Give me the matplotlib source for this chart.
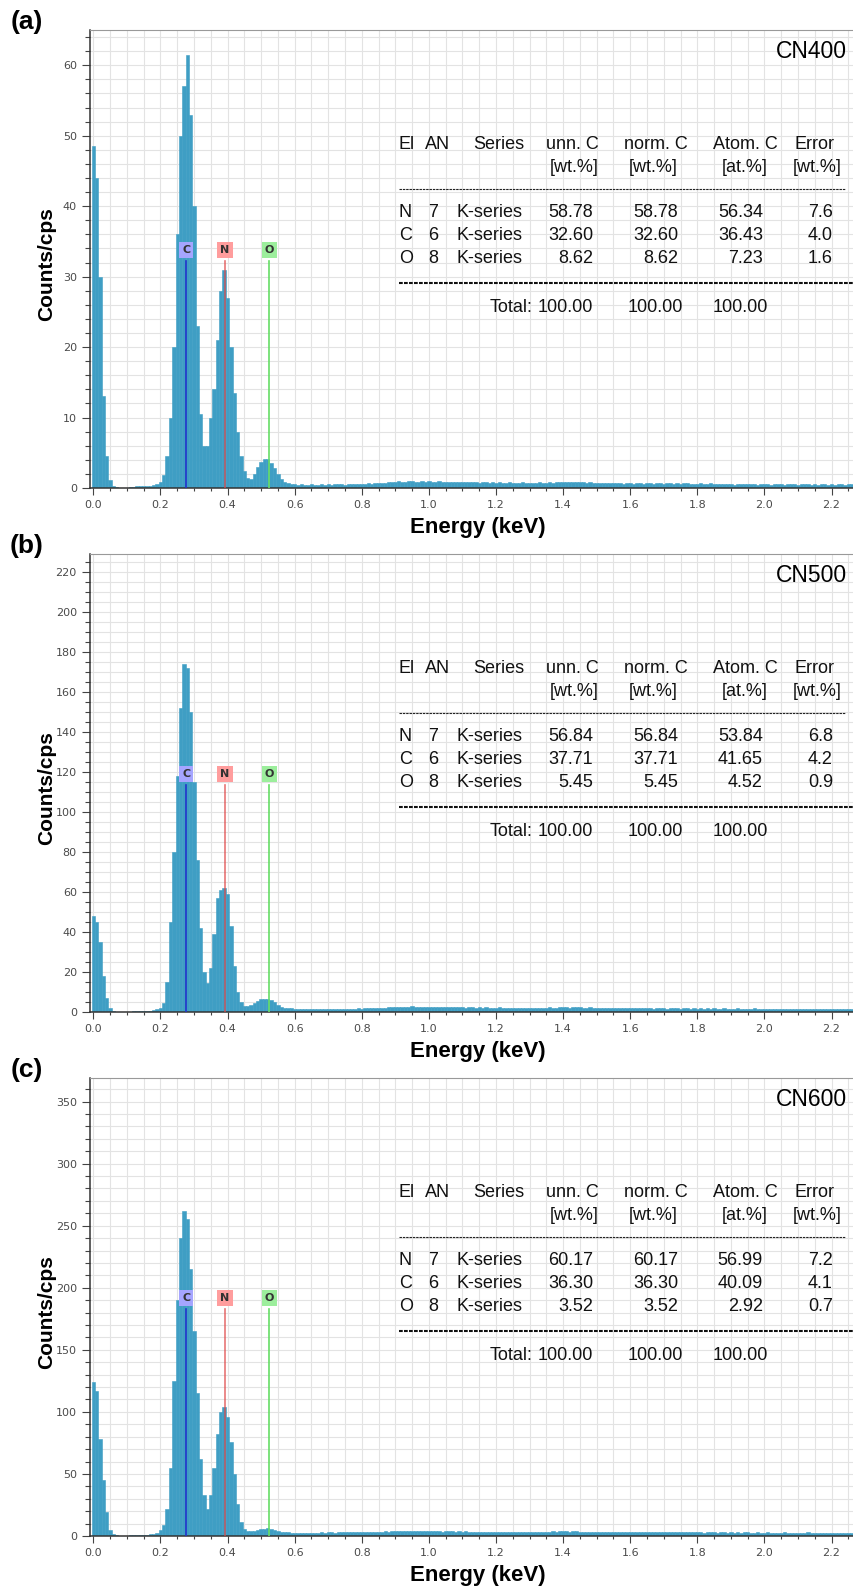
import numpy as np
import matplotlib.pyplot as plt
from matplotlib.ticker import MultipleLocator

plt.rcParams['font.family'] = ['Liberation Sans', 'DejaVu Sans']

# EDS spectra, one value per 10 eV channel starting at 0.00 keV (counts/cps)
cn400 = [
    48.5, 44, 30, 13, 4.5, 1.2, 0.3, 0.1, 0.05, 0.05,
    0.05, 0.1, 0.2, 0.25, 0.25, 0.3, 0.3, 0.35, 0.45, 0.6,
    0.9, 1.8, 4.5, 10, 20, 36, 50, 57, 61.5, 53,
    40, 23, 10.5, 6, 6, 10, 14, 21, 28, 31,
    27, 20, 13.5, 8, 4.5, 2.4, 1.4, 1.3, 2.0, 3.0,
    3.7, 4.1, 4.1, 3.5, 2.8, 2.0, 1.3, 0.9, 0.7, 0.6,
    0.5, 0.45, 0.5, 0.4, 0.45, 0.5, 0.4, 0.45, 0.5, 0.45,
    0.5, 0.45, 0.5, 0.55, 0.5, 0.45, 0.5, 0.55, 0.5, 0.6,
    0.55, 0.6, 0.65, 0.6, 0.7, 0.65, 0.7, 0.75, 0.8, 0.85,
    0.9, 0.95, 0.85, 0.9, 1.0, 0.95, 0.9, 0.85, 0.95, 0.9,
    0.95, 0.85, 0.9, 0.95, 0.85, 0.9, 0.8, 0.85, 0.9, 0.8,
    0.85, 0.8, 0.85, 0.9, 0.8, 0.75, 0.85, 0.8, 0.75, 0.8,
    0.75, 0.8, 0.7, 0.75, 0.8, 0.7, 0.75, 0.7, 0.8, 0.75,
    0.7, 0.75, 0.7, 0.8, 0.75, 0.7, 0.8, 0.75, 0.8, 0.85,
    0.8, 0.85, 0.8, 0.9, 0.85, 0.9, 0.8, 0.75, 0.8, 0.7,
    0.75, 0.7, 0.65, 0.7, 0.75, 0.7, 0.65, 0.7, 0.6, 0.65,
    0.7, 0.6, 0.65, 0.7, 0.6, 0.75, 0.65, 0.6, 0.7, 0.65,
    0.6, 0.65, 0.7, 0.6, 0.65, 0.6, 0.7, 0.65, 0.6, 0.55,
    0.6, 0.65, 0.55, 0.6, 0.65, 0.6, 0.55, 0.6, 0.5, 0.55,
    0.5, 0.45, 0.5, 0.55, 0.5, 0.6, 0.55, 0.5, 0.45, 0.5,
    0.55, 0.5, 0.45, 0.5, 0.55, 0.5, 0.45, 0.5, 0.55, 0.5,
    0.45, 0.5, 0.55, 0.5, 0.45, 0.5, 0.45, 0.5, 0.55, 0.45,
    0.5, 0.45, 0.55, 0.5, 0.45, 0.5, 0.55,
]

cn500 = [
    48, 45, 35, 18, 7, 2, 0.6, 0.2, 0.1, 0.1,
    0.15, 0.2, 0.3, 0.4, 0.5, 0.5, 0.6, 0.7, 0.9, 1.3,
    2.0, 4.5, 15, 45, 80, 118, 152, 174, 172, 150,
    115, 76, 42, 20, 14.5, 22, 39, 57, 61, 62,
    59, 43, 23, 10, 5, 3, 2.8, 3.5, 4.5, 5.5,
    6.3, 6.7, 6.6, 5.8, 4.8, 3.6, 2.7, 2.2, 2.0, 1.8,
    1.6, 1.5, 1.4, 1.5, 1.3, 1.4, 1.5, 1.3, 1.4, 1.5,
    1.4, 1.5, 1.6, 1.5, 1.4, 1.6, 1.5, 1.7, 1.6, 1.8,
    1.7, 1.8, 1.9, 1.8, 2.0, 2.1, 2.0, 2.2, 2.3, 2.4,
    2.5, 2.6, 2.4, 2.7, 2.5, 2.8, 2.6, 2.5, 2.7, 2.6,
    2.5, 2.7, 2.4, 2.6, 2.5, 2.3, 2.6, 2.4, 2.5, 2.3,
    2.4, 2.2, 2.5, 2.3, 2.1, 2.4, 2.2, 2.3, 2.1, 2.2,
    2.1, 2.3, 2.0, 2.2, 2.1, 1.9, 2.2, 2.0, 2.1, 1.9,
    2.0, 2.1, 1.9, 2.2, 2.0, 2.1, 2.3, 2.1, 2.2, 2.4,
    2.3, 2.5, 2.2, 2.4, 2.6, 2.3, 2.2, 2.1, 2.3, 2.0,
    2.1, 1.9, 2.0, 2.2, 1.9, 2.0, 1.8, 2.1, 1.9, 2.0,
    1.8, 2.0, 1.9, 2.1, 1.8, 1.9, 2.0, 1.7, 1.9, 1.8,
    1.9, 1.7, 1.8, 2.0, 1.8, 1.7, 1.9, 1.8, 1.6, 1.8,
    1.7, 1.9, 1.6, 1.8, 1.7, 1.9, 1.6, 1.7, 1.8, 1.6,
    1.7, 1.5, 1.8, 1.6, 1.7, 1.5, 1.6, 1.8, 1.5, 1.6,
    1.7, 1.5, 1.6, 1.4, 1.6, 1.7, 1.5, 1.6, 1.4, 1.5,
    1.6, 1.4, 1.5, 1.7, 1.5, 1.4, 1.6, 1.5, 1.3, 1.5,
    1.4, 1.6, 1.5, 1.3, 1.5, 1.4, 1.6,
]

cn600 = [
    124, 117, 78, 45, 19, 5, 1.5, 0.6, 0.4, 0.3,
    0.4, 0.5, 0.6, 0.8, 0.9, 1.0, 1.2, 1.5, 2.0, 2.8,
    4.5, 9, 22, 55, 125, 190, 240, 262, 255, 215,
    165, 115, 62, 33, 22, 33, 55, 82, 100, 104,
    96, 76, 50, 26, 11, 5.5, 4.3, 4.0, 4.3, 4.8,
    5.3, 6.0, 6.4, 6.0, 5.0, 4.2, 3.6, 3.2, 3.0, 2.8,
    2.7, 2.6, 2.8, 2.5, 2.7, 2.6, 2.8, 2.7, 2.9, 2.8,
    2.9, 3.0, 2.8, 3.1, 2.9, 3.0, 3.2, 3.0, 3.1, 3.3,
    3.2, 3.4, 3.3, 3.5, 3.4, 3.6, 3.5, 3.7, 3.6, 3.8,
    3.9, 3.7, 4.0, 3.8, 4.1, 3.9, 3.8, 4.0, 3.7, 3.9,
    3.8, 4.0, 3.7, 3.9, 3.6, 3.8, 3.7, 3.9, 3.6, 3.7,
    3.5, 3.7, 3.6, 3.4, 3.6, 3.5, 3.3, 3.5, 3.4, 3.6,
    3.4, 3.3, 3.5, 3.2, 3.4, 3.3, 3.5, 3.2, 3.4, 3.3,
    3.2, 3.4, 3.3, 3.5, 3.4, 3.6, 3.5, 3.7, 3.6, 3.8,
    3.7, 3.9, 3.6, 3.8, 3.7, 3.5, 3.6, 3.4, 3.5, 3.3,
    3.4, 3.2, 3.3, 3.5, 3.2, 3.4, 3.1, 3.3, 3.2, 3.4,
    3.2, 3.1, 3.3, 3.0, 3.2, 3.3, 3.1, 3.2, 3.0, 3.1,
    3.2, 3.0, 3.1, 2.9, 3.1, 3.2, 3.0, 2.9, 3.1, 3.0,
    2.9, 3.1, 2.8, 3.0, 2.9, 3.1, 2.8, 3.0, 2.9, 2.8,
    3.0, 2.8, 2.9, 2.7, 2.9, 3.0, 2.8, 2.7, 2.9, 2.8,
    2.7, 2.9, 2.8, 2.6, 2.8, 2.7, 2.9, 2.6, 2.8, 2.7,
    2.6, 2.8, 2.7, 2.9, 2.6, 2.7, 2.8, 2.6, 2.7, 2.5,
    2.7, 2.6, 2.8, 2.5, 2.7, 2.6, 2.8,
]

samples = ['CN400', 'CN500', 'CN600']
panel_tags = ['(a)', '(b)', '(c)']
spectra = [cn400, cn500, cn600]
y_top = [65, 229, 369]
y_major = [10, 20, 50]
y_minor = [2, 5, 10]

# quantification tables
elements = ['N', 'C', 'O']
atomic_no = ['7', '6', '8']
unn_c = [['58.78', '32.60', '8.62'], ['56.84', '37.71', '5.45'], ['60.17', '36.30', '3.52']]
norm_c = [['58.78', '32.60', '8.62'], ['56.84', '37.71', '5.45'], ['60.17', '36.30', '3.52']]
atom_c = [['56.34', '36.43', '7.23'], ['53.84', '41.65', '4.52'], ['56.99', '40.09', '2.92']]
error = [['7.6', '4.0', '1.6'], ['6.8', '4.2', '0.9'], ['7.2', '4.1', '0.7']]

# K-alpha line markers
line_names = ['C', 'N', 'O']
line_kev = [0.277, 0.392, 0.525]
line_colors = ['#2233cc', '#e04848', '#66dd66']
box_colors = ['#a5a5ff', '#ff9d9d', '#9cee9c']

bar_color = '#3f9ec4'
W, H = 854, 1592
ax_left, ax_h = 90, 458
ax_tops = [30, 554, 1078]

fig = plt.figure(figsize=(W / 100, H / 100), dpi=100)

def ax_x(px):
    return (px - ax_left) / (W - ax_left)

def ax_y(py):
    # py measured from the top of the axes
    return (ax_h - py) / ax_h

for i in range(3):
    top = ax_tops[i]
    ax = fig.add_axes([ax_left / W, 1 - (top + ax_h) / H, (W - ax_left) / W, ax_h / H])
    counts = np.array(spectra[i])
    energy = np.arange(len(counts)) * 0.01
    ax.bar(energy, counts, width=0.01, color=bar_color, edgecolor=bar_color,
           linewidth=0.4, zorder=2)

    ax.set_xlim(-0.0098, 2.267)
    ax.set_ylim(0, y_top[i])
    ax.xaxis.set_major_locator(MultipleLocator(0.2))
    ax.xaxis.set_minor_locator(MultipleLocator(0.05))
    ax.yaxis.set_major_locator(MultipleLocator(y_major[i]))
    ax.yaxis.set_minor_locator(MultipleLocator(y_minor[i]))
    ax.xaxis.set_major_formatter(lambda v, p: f'{v:.1f}')
    ax.grid(which='both', color='#e3e3e3', lw=0.8, zorder=0)
    ax.set_axisbelow(True)
    ax.tick_params(which='both', colors='#444444', labelcolor='#4a4a4a', labelsize=8, width=0.8)
    ax.tick_params(axis='y', which='major', length=6)
    ax.tick_params(axis='y', which='minor', length=3.5)
    ax.tick_params(axis='x', which='major', length=5, pad=4)
    ax.tick_params(axis='x', which='minor', length=2.5)
    for lab in ax.get_xticklabels() + ax.get_yticklabels():
        lab.set_family('DejaVu Sans')
    ax.spines['right'].set_visible(False)
    ax.spines['top'].set_color('#999999')
    ax.spines['left'].set_color('#333333')
    ax.spines['bottom'].set_color('#333333')
    ax.spines['left'].set_linewidth(1.1)
    ax.spines['bottom'].set_linewidth(1.1)

    # element lines with labels
    label_y = 0.52 * y_top[i]
    for name, kev, lc, bc in zip(line_names, line_kev, line_colors, box_colors):
        ax.plot([kev, kev], [0, label_y - 0.025 * y_top[i]], color=lc, lw=1.2, zorder=3,
                alpha=0.75 if name == 'N' else 1.0)
        ax.text(kev, label_y, name, ha='center', va='center', fontsize=8, color='#333333',
                family='DejaVu Sans', fontweight='bold', zorder=4,
                bbox=dict(boxstyle='square,pad=0.28', fc=bc, ec='none'))

    ax.text(ax_x(847), ax_y(27.7), samples[i], transform=ax.transAxes, ha='right',
            va='baseline', fontsize=16.5)
    ax.text(ax_x(47), 0.49, 'Counts/cps', transform=ax.transAxes, rotation=90,
            ha='center', va='center', fontsize=15, fontweight='bold')
    ax.text(ax_x(478), ax_y(497), 'Energy (keV)', transform=ax.transAxes,
            ha='center', va='center', fontsize=16, fontweight='bold')
    fig.text(27 / W, 1 - (top - 8) / H, panel_tags[i], ha='center', va='center',
             fontsize=19, fontweight='bold')

    # table
    fs = 13
    def t(px, py, s, ha='left'):
        ax.text(ax_x(px), ax_y(py), s, transform=ax.transAxes, ha=ha, va='baseline',
                fontsize=fs, color='#111111', zorder=5)
    t(399, 119.3, 'El')
    t(425, 119.3, 'AN')
    t(473, 119.3, 'Series')
    t(599, 119.3, 'unn. C', 'right')
    t(688, 119.3, 'norm. C', 'right')
    t(778, 119.3, 'Atom. C', 'right')
    t(835, 119.3, 'Error', 'right')
    t(599, 142, '[wt.%]', 'right')
    t(678, 142, '[wt.%]', 'right')
    t(768, 142, '[at.%]', 'right')
    t(842, 142, '[wt.%]', 'right')
    ax.plot([ax_x(399), ax_x(845)], [ax_y(159)] * 2, transform=ax.transAxes,
            color='#222222', lw=0.8, dashes=(2.2, 0.8), zorder=5)
    for r in range(3):
        yb = 187.3 + r * 22.7
        t(399, yb, elements[r])
        t(433, yb, atomic_no[r], 'center')
        t(457, yb, 'K-series')
        t(593, yb, unn_c[i][r], 'right')
        t(678, yb, norm_c[i][r], 'right')
        t(763, yb, atom_c[i][r], 'right')
        t(833, yb, error[i][r], 'right')
    ax.plot([ax_x(399), ax_x(854)], [ax_y(253.3)] * 2, transform=ax.transAxes,
            color='#111111', lw=1.5, dashes=(1.8, 0.6), zorder=5, clip_on=False)
    t(533, 281.7, 'Total:', 'right')
    t(593, 281.7, '100.00', 'right')
    t(683, 281.7, '100.00', 'right')
    t(768, 281.7, '100.00', 'right')

fig.savefig('out.png', dpi=100)
